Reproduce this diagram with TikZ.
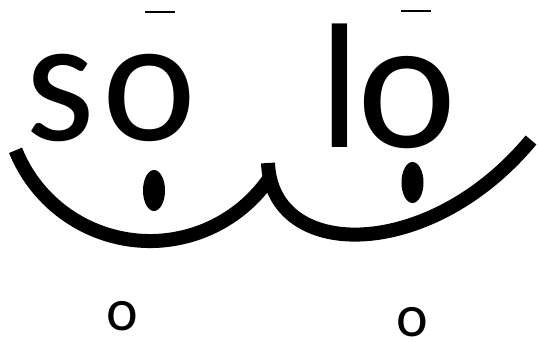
\documentclass[tikz,border=0pt]{standalone}
\usepackage{fontspec}
\setmainfont{Carlito}
\begin{document}
\begin{tikzpicture}[x=1pt,y=-1pt,
  big/.style={font=\fontsize{178}{178}\selectfont, inner sep=0pt, anchor=base},
  bigger/.style={font=\fontsize{188}{188}\selectfont, inner sep=0pt, anchor=base},
  small/.style={font=\fontsize{60}{60}\selectfont, inner sep=0pt, anchor=base},
  stroke/.style={line width=14pt, line cap=butt},
  bar/.style={line width=2.2pt},
  dot/.style={fill=black}]
\useasboundingbox (0,0) rectangle (539,343);
% big letters
\node[big] (s) at (60,140) {s};
\node[big] (o1) at (149.5,140) {o};
\node[big] (l) at (339.5,147) {l};
\node[bigger] (o2) at (407.5,147) {o};
% bars
\draw[bar] (145,12) -- (175,12);
\draw[bar] (401,11) -- (431,11);
% dots
\fill[dot] (154,190.5) ellipse [x radius=11, y radius=20.5];
\fill[dot] (412.5,182.5) ellipse [x radius=11, y radius=20.5];
% arcs
\draw[stroke] (150,96) ++(158:145) arc[start angle=158, end angle=33, radius=145];
\draw[stroke] (268,163) .. controls (272,262) and (430,262) .. (531,140);
% small o
\node[small] (so1) at (122.5,330) {o};
\node[small] (so2) at (412,336) {o};
\end{tikzpicture}
\end{document}
